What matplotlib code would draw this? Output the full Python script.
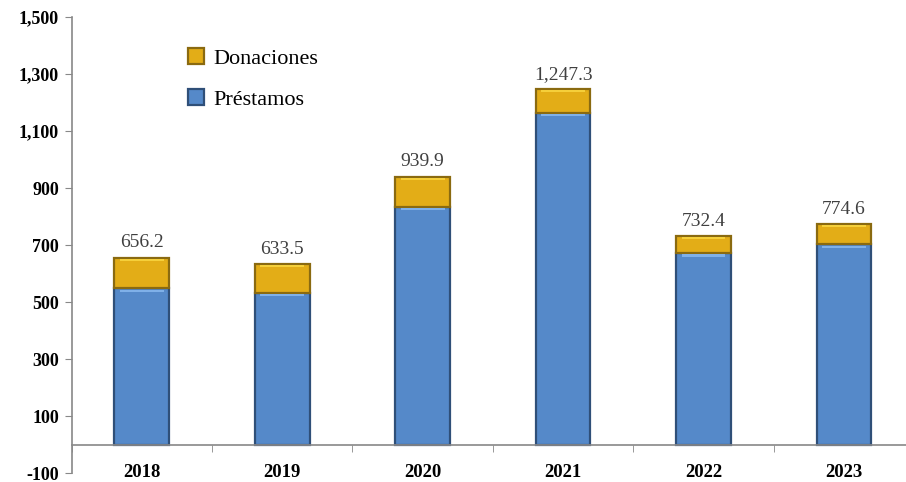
import matplotlib
matplotlib.use("Agg")
import matplotlib.pyplot as plt
import numpy as np

years = ["2018", "2019", "2020", "2021", "2022", "2023"]
prestamos = [548.0, 533.0, 834.0, 1164.0, 671.0, 702.0]
totales = [656.2, 633.5, 939.9, 1247.3, 732.4, 774.6]
donaciones = [t - p for t, p in zip(totales, prestamos)]
total_labels = ["656.2", "633.5", "939.9", "1,247.3", "732.4", "774.6"]
yticks = [-100, 100, 300, 500, 700, 900, 1100, 1300, 1500]

plt.rcParams['font.family'] = ['Liberation Serif', 'DejaVu Serif']

fig = plt.figure(figsize=(9.06, 4.82), dpi=100)
ax = fig.add_axes([0.079, 0.0186, 0.93, 0.946])

for s in ["top", "right"]:
    ax.spines[s].set_visible(False)
ax.spines["bottom"].set_position(("data", 0))
ax.spines["left"].set_color("#888888")
ax.spines["left"].set_linewidth(1.2)
ax.spines["bottom"].set_color("#888888")
ax.spines["bottom"].set_linewidth(1.2)

x = np.arange(len(years))
w = 0.39
blue = "#5589C9"
gold = "#E3AD17"
b1 = ax.bar(x, prestamos, w, color=blue, edgecolor="#2F4F78", linewidth=1.6, label="Préstamos", zorder=2)
b2 = ax.bar(x, donaciones, w, bottom=prestamos, color=gold, edgecolor="#8A6A10", linewidth=1.6, label="Donaciones", zorder=2)
# bevel highlight at top of each segment
ax.bar(x, [8]*len(x), w*0.8, bottom=[p - 12 for p in prestamos], color="#7FB0E8", linewidth=0, zorder=3)
ax.bar(x, [8]*len(x), w*0.8, bottom=[t - 12 for t in totales], color="#F5CF3A", linewidth=0, zorder=3)

for xi, t, lab in zip(x, totales, total_labels):
    ax.text(xi, t + 22, lab, ha="center", va="bottom", fontsize=14, color="#404040")

ax.set_ylim(-100, 1500)
ax.set_xlim(-0.5, 5.44)
ax.set_yticks(yticks)
ax.set_yticklabels([f"{v:,}" for v in yticks], fontsize=13, fontweight="bold")
ax.set_xticks(x)
ax.set_xticklabels(years, fontsize=13.5, fontweight="bold")
ax.set_xticks(np.arange(-0.5, 6, 1), minor=True)
ax.tick_params(axis="x", which="major", length=0, pad=14)
ax.tick_params(axis="x", which="minor", length=5, color="#888888", direction="out")
ax.tick_params(axis="y", length=5, color="#888888", direction="out", pad=4)

leg = ax.legend(handles=[b2, b1], labels=["Donaciones", "Préstamos"], loc="upper left",
                bbox_to_anchor=(0.115, 0.975), frameon=False,
                prop={"family": "Liberation Serif", "size": 16},
                handlelength=0.7, handleheight=0.7, handletextpad=0.4, labelspacing=0.9)

fig.savefig("out.png", dpi=100)
